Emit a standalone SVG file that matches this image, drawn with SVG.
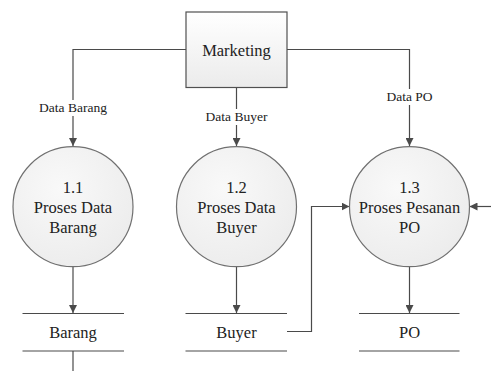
<svg xmlns="http://www.w3.org/2000/svg" width="491" height="371" viewBox="0 0 491 371">
  <style>
    text { font-family: 'Liberation Serif', 'DejaVu Serif', serif; fill: #222; text-anchor: middle; }
    .node { font-size: 16.5px; }
    .lbl { font-size: 13.5px; }
    .flow { fill: none; stroke: #4a4a4a; stroke-width: 1.2; }
    .store { stroke: #4a4a4a; stroke-width: 1.2; }
    .proc { fill: url(#procFill); stroke: #707070; stroke-width: 1.2; }
    .ent { fill: url(#entFill); stroke: #505050; stroke-width: 1.2; }
  </style>
  <defs>
    <linearGradient id="entFill" x1="0" y1="0" x2="0" y2="1">
      <stop offset="0" stop-color="#ffffff"/>
      <stop offset="1" stop-color="#ebebeb"/>
    </linearGradient>
    <radialGradient id="procFill" cx="0.4" cy="0.35" r="0.7">
      <stop offset="0" stop-color="#f9f9f9"/>
      <stop offset="1" stop-color="#ececec"/>
    </radialGradient>
    <marker id="arrow" viewBox="0 0 10 10" refX="10" refY="5" markerWidth="8" markerHeight="8" markerUnits="userSpaceOnUse" orient="auto">
      <path d="M0,0 L10,5 L0,10 Z" fill="#4a4a4a"/>
    </marker>
  </defs>

  <!-- data flows -->
  <g id="connectors">
    <path class="flow" d="M186,49.5 H73 V146" marker-end="url(#arrow)"/>
    <path class="flow" d="M236.5,87.5 V146" marker-end="url(#arrow)"/>
    <path class="flow" d="M287,49.5 H409.5 V146" marker-end="url(#arrow)"/>
    <path class="flow" d="M73,267 V313" marker-end="url(#arrow)"/>
    <path class="flow" d="M236.5,267 V313" marker-end="url(#arrow)"/>
    <path class="flow" d="M409.5,267 V313" marker-end="url(#arrow)"/>
    <path class="flow" d="M287,331.5 H311.5 V206.5 H349.5" marker-end="url(#arrow)"/>
    <path class="flow" d="M491,206.5 H469.5" marker-end="url(#arrow)"/>
    <path class="flow" d="M73,351 V371"/>
    <rect x="36" y="100" width="74" height="16" fill="#fff"/>
    <text class="lbl" x="73" y="112">Data Barang</text>
    <rect x="203" y="109" width="67" height="16" fill="#fff"/>
    <text class="lbl" x="236.5" y="121">Data Buyer</text>
    <rect x="380" y="89" width="59" height="16" fill="#fff"/>
    <text class="lbl" x="409.5" y="101">Data PO</text>
  </g>

  <!-- external entity -->
  <g id="marketing">
    <rect class="ent" x="186" y="12" width="101" height="75.5"/>
    <text class="node" x="236.5" y="55.5">Marketing</text>
  </g>

  <!-- processes -->
  <g id="proc-1-1">
    <circle class="proc" cx="73" cy="206.7" r="60"/>
    <text class="node" x="73" y="192.5">1.1</text>
    <text class="node" x="73" y="212.5">Proses Data</text>
    <text class="node" x="73" y="232.5">Barang</text>
  </g>
  <g id="proc-1-2">
    <circle class="proc" cx="236.5" cy="206.7" r="60"/>
    <text class="node" x="236.5" y="192.5">1.2</text>
    <text class="node" x="236.5" y="212.5">Proses Data</text>
    <text class="node" x="236.5" y="232.5">Buyer</text>
  </g>
  <g id="proc-1-3">
    <circle class="proc" cx="409.5" cy="206.7" r="60"/>
    <text class="node" x="409.5" y="192.5">1.3</text>
    <text class="node" x="409.5" y="212.5">Proses Pesanan</text>
    <text class="node" x="409.5" y="232.5">PO</text>
  </g>

  <!-- data stores -->
  <g id="store-barang">
    <line class="store" x1="22.5" y1="313.5" x2="124" y2="313.5"/>
    <line class="store" x1="22.5" y1="351" x2="124" y2="351"/>
    <text class="node" x="73" y="337.5">Barang</text>
  </g>
  <g id="store-buyer">
    <line class="store" x1="185.5" y1="313.5" x2="287" y2="313.5"/>
    <line class="store" x1="185.5" y1="351" x2="287" y2="351"/>
    <text class="node" x="236.5" y="337.5">Buyer</text>
  </g>
  <g id="store-po">
    <line class="store" x1="359" y1="313.5" x2="459.5" y2="313.5"/>
    <line class="store" x1="359" y1="351" x2="459.5" y2="351"/>
    <text class="node" x="409.5" y="337.5">PO</text>
  </g>
</svg>
